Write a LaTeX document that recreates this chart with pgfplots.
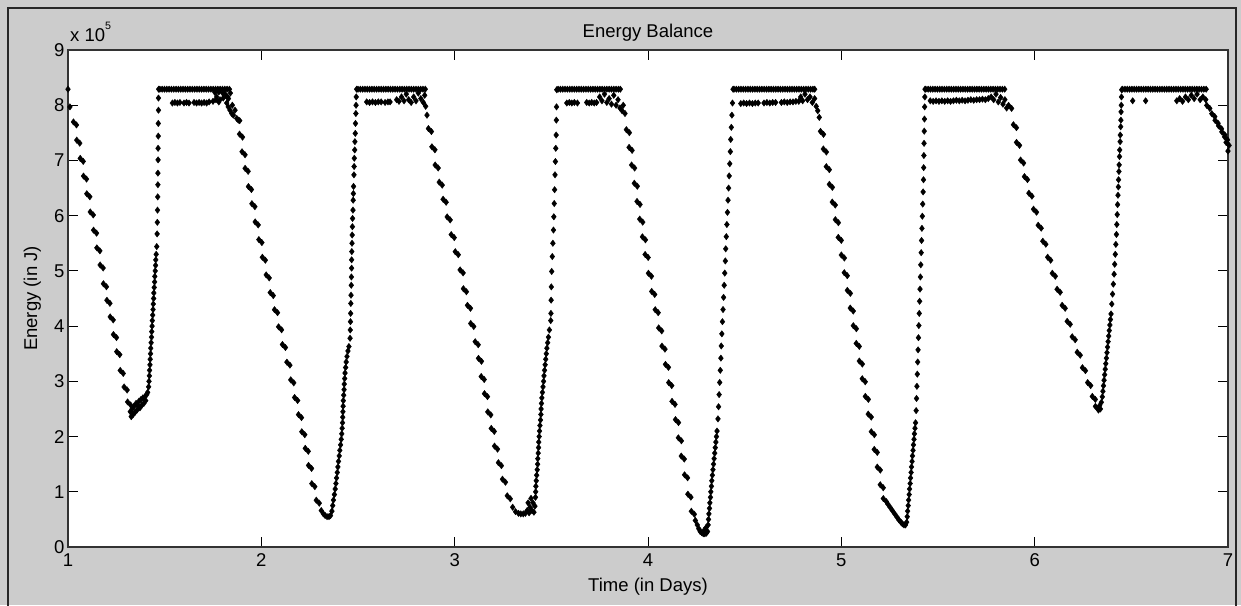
\documentclass[border=0pt]{standalone}
\usepackage{fontspec}
\setmainfont{Liberation Sans}
\usepackage{pgfplots}
\pgfplotsset{compat=1.18}
\definecolor{figgray}{RGB}{204,204,204}
% two overlapping diamonds (the descending branches show doubled markers)
\pgfdeclareplotmark{twin}{%
  \pgfpathmoveto{\pgfqpoint{-1.5pt}{4.7pt}}%
  \pgfpathlineto{\pgfqpoint{0.9pt}{1.5pt}}%
  \pgfpathlineto{\pgfqpoint{-1.5pt}{-1.7pt}}%
  \pgfpathlineto{\pgfqpoint{-3.9pt}{1.5pt}}%
  \pgfpathclose
  \pgfpathmoveto{\pgfqpoint{1.5pt}{1.7pt}}%
  \pgfpathlineto{\pgfqpoint{3.9pt}{-1.5pt}}%
  \pgfpathlineto{\pgfqpoint{1.5pt}{-4.7pt}}%
  \pgfpathlineto{\pgfqpoint{-0.9pt}{-1.5pt}}%
  \pgfpathclose
  \pgfusepathqfillstroke
}
\newcommand{\lblfont}{\fontsize{18.5}{21}\selectfont}
\begin{document}
\begin{tikzpicture}[x=1pt,y=1pt]
\fill[figgray] (0,0) rectangle (1241,605);
\useasboundingbox (0,0) rectangle (1241,605);
\begin{axis}[
  at={(68pt,58pt)}, anchor=south west,
  scale only axis, width=1160pt, height=497pt,
  xmin=1, xmax=7, ymin=0, ymax=9,
  xtick={1,2,3,4,5,6,7}, ytick={0,1,2,3,4,5,6,7,8,9},
  axis background/.style={fill=white},
  axis line style={black!80, line width=1.1pt},
  tick align=inside, major tick length=10pt,
  tick style={black, line width=0.9pt},
  tick label style={font=\lblfont},
  /pgf/number format/assume math mode=true,
  xticklabel style={yshift=-3pt},
  title={Energy Balance},
  xlabel={Time (in Days)},
  ylabel={Energy (in J)},
  every axis title/.style={at={(0.5,1.02616)}, anchor=base, font=\lblfont},
  every axis x label/.style={at={(0.5,-0.08853)}, anchor=base, font=\lblfont},
  every axis y label/.style={at={(-0.02672,0.5)}, rotate=90, anchor=base, font=\lblfont},
  pt/.style={only marks, mark=diamond*, mark size=3.2pt, black, mark options={line width=0.4pt}},
  tw/.style={only marks, mark=twin, black, mark options={line width=0.4pt}},
]
% descending branches
\addplot[tw] coordinates {
(1.036,7.67) (1.053,7.34) (1.071,7.01) (1.088,6.69) (1.105,6.37) (1.123,6.04) (1.140,5.71) (1.157,5.39) (1.174,5.08) (1.191,4.74) (1.209,4.44) (1.226,4.14) (1.243,3.82) (1.260,3.51) (1.278,3.17) (1.298,2.87) (1.316,2.60)
(1.895,7.45) (1.908,7.13) (1.924,6.83) (1.941,6.50) (1.959,6.19) (1.976,5.86) (1.995,5.54) (2.013,5.22) (2.033,4.90) (2.054,4.58) (2.076,4.27) (2.097,3.96) (2.117,3.64) (2.140,3.32) (2.160,3.00) (2.180,2.68) (2.200,2.37) (2.217,2.06) (2.235,1.76) (2.252,1.45) (2.269,1.12) (2.292,0.82)
(2.872,7.55) (2.890,7.22) (2.907,6.89) (2.928,6.58) (2.948,6.27) (2.969,5.95) (2.990,5.63) (3.011,5.32) (3.036,4.99) (3.053,4.65) (3.074,4.35) (3.091,4.02) (3.114,3.69) (3.131,3.39) (3.145,3.06) (3.162,2.75) (3.179,2.42) (3.197,2.12) (3.214,1.80) (3.234,1.50) (3.255,1.20) (3.280,0.90)
(3.896,7.53) (3.910,7.21) (3.923,6.89) (3.937,6.56) (3.951,6.23) (3.965,5.91) (3.979,5.59) (3.993,5.27) (4.010,4.93) (4.027,4.60) (4.045,4.27) (4.063,3.94) (4.080,3.61) (4.098,3.28) (4.115,2.95) (4.132,2.61) (4.150,2.28) (4.165,1.95) (4.180,1.62) (4.197,1.28) (4.214,0.93) (4.232,0.62)
(4.900,7.50) (4.915,7.18) (4.930,6.86) (4.946,6.54) (4.961,6.22) (4.977,5.90) (4.992,5.58) (5.008,5.26) (5.023,4.94) (5.039,4.62) (5.054,4.30) (5.070,3.98) (5.085,3.66) (5.101,3.34) (5.116,3.02) (5.132,2.70) (5.147,2.38) (5.163,2.06) (5.178,1.74) (5.194,1.42) (5.209,1.10) (5.225,0.85)
(5.873,7.97) (5.898,7.62) (5.914,7.30) (5.935,6.98) (5.955,6.68) (5.978,6.38) (6.002,6.09) (6.026,5.80) (6.050,5.51) (6.075,5.22) (6.099,4.93) (6.124,4.64) (6.150,4.35) (6.176,4.06) (6.202,3.78) (6.228,3.50) (6.255,3.22) (6.282,2.95) (6.306,2.70) (6.322,2.52)
(6.898,7.97) (6.924,7.82) (6.941,7.70) (6.959,7.60) (6.976,7.49) (6.990,7.40) (6.998,7.30)
};
% day 1: start, minimum, rise
\addplot[pt] coordinates {
(1.000,8.29) (1.010,7.97)
(1.322,2.45) (1.327,2.36) (1.332,2.50) (1.337,2.40) (1.342,2.55) (1.347,2.44) (1.352,2.60) (1.357,2.48) (1.362,2.56) (1.367,2.64) (1.372,2.52) (1.377,2.67) (1.382,2.57) (1.387,2.70) (1.392,2.60) (1.397,2.72) (1.402,2.65) (1.407,2.76) (1.412,2.80)
(1.417,2.90) (1.419,3.00) (1.421,3.10) (1.422,3.20) (1.424,3.30) (1.425,3.40) (1.427,3.50) (1.428,3.60) (1.430,3.70) (1.432,3.80) (1.433,3.90) (1.435,4.00) (1.436,4.10) (1.438,4.20) (1.440,4.30) (1.441,4.40) (1.443,4.50) (1.444,4.60) (1.446,4.70) (1.448,4.80) (1.449,4.90) (1.451,5.00) (1.453,5.10) (1.454,5.20) (1.456,5.30) (1.459,5.44)
(1.461,5.67) (1.462,5.88) (1.463,6.10) (1.464,6.34) (1.465,6.56) (1.465,6.77) (1.466,7.01) (1.466,7.22) (1.467,7.44) (1.467,7.67) (1.468,7.91) (1.468,8.13) (1.469,8.29)
};
% day 1: full-charge plateau
\addplot[pt] coordinates {
(1.475,8.29) (1.487,8.29) (1.499,8.29) (1.511,8.29) (1.523,8.29) (1.535,8.29) (1.547,8.29) (1.559,8.29) (1.571,8.29) (1.583,8.29) (1.595,8.29) (1.607,8.29) (1.619,8.29) (1.631,8.29) (1.643,8.29) (1.655,8.29) (1.667,8.29) (1.679,8.29) (1.691,8.29) (1.703,8.29) (1.715,8.29) (1.727,8.29) (1.739,8.29) (1.751,8.29) (1.763,8.29) (1.775,8.29) (1.787,8.29) (1.799,8.29) (1.811,8.29) (1.823,8.29) (1.835,8.29)
(1.760,8.23) (1.780,8.24) (1.800,8.22) (1.815,8.18) (1.830,8.12)
(1.540,8.04) (1.553,8.05) (1.566,8.04) (1.579,8.05) (1.600,8.04) (1.613,8.05) (1.626,8.04) (1.652,8.05) (1.665,8.04) (1.678,8.05) (1.691,8.04) (1.704,8.05) (1.717,8.04) (1.730,8.06) (1.750,8.07) (1.765,8.10) (1.780,8.06)
(1.769,8.15) (1.786,8.10) (1.803,8.13) (1.821,8.04) (1.829,7.97) (1.838,7.91) (1.847,7.85) (1.855,7.82) (1.864,7.91) (1.873,7.76) (1.881,7.73) (1.812,8.20) (1.825,8.15) (1.840,8.22) (1.850,8.00) (1.888,7.72)
};
% day 2
\addplot[pt] coordinates {
(2.310,0.66) (2.321,0.60) (2.330,0.57) (2.340,0.55) (2.350,0.55) (2.358,0.57) (2.365,0.65)
(2.369,0.75) (2.373,0.85) (2.378,0.95) (2.382,1.05) (2.386,1.15) (2.389,1.25) (2.393,1.35) (2.396,1.45) (2.399,1.55) (2.403,1.65) (2.406,1.75) (2.410,1.85) (2.413,1.95) (2.416,2.05) (2.418,2.15) (2.420,2.25) (2.421,2.35) (2.422,2.45) (2.423,2.55) (2.424,2.65) (2.426,2.75) (2.428,2.85) (2.429,2.95) (2.431,3.05) (2.433,3.15) (2.436,3.25) (2.439,3.35) (2.443,3.45) (2.448,3.55) (2.453,3.63)
(2.459,3.78) (2.460,3.93) (2.461,4.08) (2.462,4.23) (2.463,4.41) (2.464,4.56) (2.465,4.74) (2.466,4.89) (2.467,5.05) (2.467,5.20) (2.468,5.35) (2.469,5.50) (2.470,5.65) (2.471,5.80) (2.472,5.95) (2.474,6.10) (2.475,6.28) (2.476,6.40) (2.477,6.53) (2.479,6.74) (2.480,6.89) (2.481,7.04) (2.483,7.19) (2.484,7.34) (2.486,7.49) (2.487,7.67) (2.489,7.85) (2.490,8.00) (2.491,8.15) (2.493,8.29)
(2.500,8.29) (2.512,8.29) (2.524,8.29) (2.536,8.29) (2.548,8.29) (2.560,8.29) (2.572,8.29) (2.584,8.29) (2.596,8.29) (2.608,8.29) (2.620,8.29) (2.632,8.29) (2.644,8.29) (2.656,8.29) (2.668,8.29) (2.680,8.29) (2.692,8.29) (2.704,8.29) (2.716,8.29) (2.728,8.29) (2.740,8.29) (2.752,8.29) (2.764,8.29) (2.776,8.29) (2.788,8.29) (2.800,8.29) (2.812,8.29) (2.824,8.29) (2.836,8.29) (2.848,8.29)
(2.545,8.06) (2.560,8.05) (2.575,8.06) (2.590,8.05) (2.605,8.06) (2.620,8.06) (2.640,8.05) (2.655,8.06) (2.666,8.06)
(2.700,8.10) (2.712,8.07) (2.725,8.15) (2.738,8.08) (2.750,8.20) (2.762,8.10) (2.775,8.05) (2.788,8.15) (2.800,8.08) (2.812,8.22) (2.825,8.12) (2.838,8.05) (2.845,8.18) (2.850,7.98) (2.857,7.82)
};
% day 3
\addplot[pt] coordinates {
(3.300,0.72) (3.315,0.64) (3.330,0.61) (3.342,0.60) (3.355,0.60) (3.366,0.61) (3.375,0.66) (3.380,0.80) (3.385,0.62) (3.390,0.72) (3.395,0.88) (3.400,0.66) (3.405,0.80) (3.410,0.63) (3.415,0.74) (3.418,0.90)
(3.419,1.00) (3.420,1.10) (3.422,1.20) (3.424,1.30) (3.427,1.40) (3.429,1.50) (3.430,1.60) (3.432,1.70) (3.434,1.80) (3.435,1.90) (3.437,2.00) (3.439,2.10) (3.441,2.20) (3.444,2.30) (3.446,2.40) (3.447,2.50) (3.449,2.60) (3.451,2.70) (3.454,2.80) (3.457,2.90) (3.460,3.00) (3.462,3.10) (3.465,3.20) (3.468,3.30) (3.471,3.40) (3.474,3.50) (3.477,3.60) (3.481,3.70) (3.485,3.80) (3.490,3.93)
(3.497,4.10) (3.498,4.23) (3.499,4.47) (3.500,4.71) (3.502,4.99) (3.505,5.26) (3.508,5.50) (3.511,5.74) (3.513,5.98) (3.515,6.22) (3.517,6.47) (3.519,6.74) (3.521,6.98) (3.523,7.22) (3.525,7.46) (3.526,7.73) (3.527,7.97) (3.528,8.28)
(3.535,8.29) (3.547,8.29) (3.559,8.29) (3.571,8.29) (3.583,8.29) (3.595,8.29) (3.607,8.29) (3.619,8.29) (3.631,8.29) (3.643,8.29) (3.655,8.29) (3.667,8.29) (3.679,8.29) (3.691,8.29) (3.703,8.29) (3.715,8.29) (3.727,8.29) (3.739,8.29) (3.751,8.29) (3.763,8.29) (3.775,8.29) (3.787,8.29) (3.799,8.29) (3.811,8.29) (3.823,8.29) (3.835,8.29) (3.847,8.29) (3.857,8.29)
(3.580,8.04) (3.593,8.05) (3.606,8.04) (3.619,8.05) (3.635,8.04) (3.683,8.05) (3.696,8.04) (3.709,8.05) (3.722,8.04) (3.734,8.05)
(3.750,8.15) (3.762,8.08) (3.775,8.20) (3.787,8.05) (3.799,8.12) (3.811,8.02) (3.823,8.18) (3.835,8.00) (3.845,8.10) (3.855,7.95) (3.866,7.90) (3.872,8.00) (3.881,7.85)
};
% day 4
\addplot[pt] coordinates {
(4.245,0.48) (4.255,0.40) (4.263,0.33) (4.270,0.28) (4.278,0.26) (4.286,0.24) (4.294,0.24) (4.302,0.25) (4.308,0.28) (4.300,0.35) (4.290,0.30)
(4.311,0.40) (4.313,0.50) (4.315,0.60) (4.318,0.70) (4.320,0.80) (4.323,0.90) (4.325,1.00) (4.328,1.10) (4.330,1.20) (4.333,1.30) (4.336,1.40) (4.339,1.50) (4.342,1.60) (4.345,1.70) (4.348,1.80) (4.351,1.90) (4.354,2.00) (4.357,2.10)
(4.362,2.32) (4.365,2.54) (4.368,2.76) (4.371,2.98) (4.374,3.20) (4.377,3.42) (4.379,3.64) (4.382,3.86) (4.385,4.08) (4.388,4.30) (4.391,4.52) (4.394,4.74) (4.397,4.96) (4.400,5.18) (4.402,5.40) (4.405,5.62) (4.408,5.84) (4.411,6.06) (4.414,6.28) (4.417,6.50) (4.420,6.72) (4.423,6.94) (4.426,7.16) (4.428,7.38) (4.431,7.60) (4.434,7.82) (4.437,8.04) (4.440,8.29)
(4.445,8.29) (4.457,8.29) (4.469,8.29) (4.481,8.29) (4.493,8.29) (4.505,8.29) (4.517,8.29) (4.529,8.29) (4.541,8.29) (4.553,8.29) (4.565,8.29) (4.577,8.29) (4.589,8.29) (4.601,8.29) (4.613,8.29) (4.625,8.29) (4.637,8.29) (4.649,8.29) (4.661,8.29) (4.673,8.29) (4.685,8.29) (4.697,8.29) (4.709,8.29) (4.721,8.29) (4.733,8.29) (4.745,8.29) (4.757,8.29) (4.769,8.29) (4.781,8.29) (4.793,8.29) (4.805,8.29) (4.817,8.29) (4.829,8.29) (4.841,8.29) (4.853,8.29) (4.862,8.29)
(4.480,8.03) (4.495,8.04) (4.510,8.03) (4.525,8.04) (4.540,8.03) (4.555,8.04) (4.570,8.04) (4.600,8.04) (4.615,8.05) (4.630,8.04) (4.645,8.05) (4.660,8.05) (4.690,8.05) (4.705,8.06) (4.720,8.05) (4.735,8.06) (4.750,8.06) (4.765,8.07) (4.780,8.07)
(4.790,8.15) (4.800,8.08) (4.812,8.20) (4.825,8.10) (4.838,8.15) (4.850,8.05) (4.862,8.12) (4.870,7.98) (4.878,7.90) (4.886,7.78)
};
% day 5
\addplot[pt] coordinates {
(5.240,0.78) (5.252,0.72) (5.264,0.66) (5.276,0.60) (5.288,0.54) (5.298,0.49) (5.308,0.45) (5.316,0.42) (5.324,0.40) (5.332,0.40) (5.338,0.45)
(5.341,0.55) (5.343,0.65) (5.346,0.75) (5.348,0.85) (5.351,0.95) (5.353,1.05) (5.356,1.15) (5.358,1.25) (5.361,1.35) (5.363,1.45) (5.366,1.55) (5.368,1.65) (5.371,1.75) (5.373,1.85) (5.376,1.95) (5.378,2.05) (5.381,2.15) (5.384,2.25)
(5.387,2.47) (5.389,2.69) (5.391,2.91) (5.393,3.13) (5.395,3.35) (5.397,3.57) (5.399,3.79) (5.401,4.01) (5.403,4.23) (5.405,4.45) (5.407,4.67) (5.409,4.89) (5.411,5.11) (5.413,5.33) (5.415,5.55) (5.417,5.77) (5.419,5.99) (5.421,6.21) (5.423,6.43) (5.425,6.65) (5.426,6.87) (5.427,7.09) (5.428,7.31) (5.429,7.53) (5.430,7.75) (5.431,7.97) (5.432,8.15) (5.433,8.29)
(5.437,8.29) (5.449,8.29) (5.461,8.29) (5.473,8.29) (5.485,8.29) (5.497,8.29) (5.509,8.29) (5.521,8.29) (5.533,8.29) (5.545,8.29) (5.557,8.29) (5.569,8.29) (5.581,8.29) (5.593,8.29) (5.605,8.29) (5.617,8.29) (5.629,8.29) (5.641,8.29) (5.653,8.29) (5.665,8.29) (5.677,8.29) (5.689,8.29) (5.701,8.29) (5.713,8.29) (5.725,8.29) (5.737,8.29) (5.749,8.29) (5.761,8.29) (5.773,8.29) (5.785,8.29) (5.797,8.29) (5.809,8.29) (5.821,8.29) (5.833,8.29) (5.845,8.29)
(5.460,8.08) (5.475,8.07) (5.490,8.08) (5.505,8.07) (5.520,8.08) (5.535,8.07) (5.550,8.08) (5.565,8.07) (5.580,8.08) (5.595,8.09) (5.610,8.08) (5.625,8.09) (5.640,8.08) (5.655,8.09) (5.670,8.10) (5.685,8.09) (5.700,8.10) (5.715,8.10) (5.730,8.11) (5.745,8.10) (5.760,8.12)
(5.775,8.15) (5.788,8.10) (5.800,8.20) (5.812,8.06) (5.824,8.14) (5.836,8.02) (5.846,8.10) (5.855,7.95)
};
% day 6 and the start of day 7
\addplot[pt] coordinates {
(6.330,2.48) (6.336,2.56) (6.340,2.50) (6.345,2.62) (6.350,2.72)
(6.353,2.82) (6.356,2.92) (6.359,3.02) (6.362,3.12) (6.365,3.22) (6.368,3.32) (6.371,3.42) (6.374,3.52) (6.377,3.62) (6.380,3.72) (6.383,3.82) (6.386,3.92) (6.389,4.02) (6.392,4.12) (6.395,4.22)
(6.399,4.40) (6.403,4.58) (6.407,4.76) (6.411,4.94) (6.414,5.12) (6.417,5.30) (6.420,5.48) (6.423,5.66) (6.425,5.84) (6.427,6.02) (6.429,6.20) (6.431,6.37) (6.433,6.52) (6.434,6.65) (6.436,6.80) (6.437,6.92) (6.439,7.07) (6.440,7.19) (6.442,7.34) (6.443,7.46) (6.445,7.61) (6.446,7.73) (6.447,7.88) (6.448,8.00) (6.449,8.15) (6.450,8.28)
(6.455,8.29) (6.467,8.29) (6.479,8.29) (6.491,8.29) (6.503,8.29) (6.515,8.29) (6.527,8.29) (6.539,8.29) (6.551,8.29) (6.563,8.29) (6.575,8.29) (6.587,8.29) (6.599,8.29) (6.611,8.29) (6.623,8.29) (6.635,8.29) (6.647,8.29) (6.659,8.29) (6.671,8.29) (6.683,8.29) (6.695,8.29) (6.707,8.29) (6.719,8.29) (6.731,8.29) (6.743,8.29) (6.755,8.29) (6.767,8.29) (6.779,8.29) (6.791,8.29) (6.803,8.29) (6.815,8.29) (6.827,8.29) (6.839,8.29) (6.851,8.29) (6.863,8.29) (6.875,8.29) (6.887,8.29)
(6.507,8.08) (6.574,8.08)
(6.735,8.08) (6.750,8.12) (6.765,8.07) (6.780,8.15) (6.795,8.10) (6.810,8.18) (6.825,8.12) (6.840,8.20) (6.856,8.10) (6.870,8.15) (6.885,8.10)
(7.000,7.17)
};
\end{axis}
\node[anchor=base west, font=\lblfont, inner sep=0pt] at (70,563) {x 10\raisebox{12.7pt}{\fontsize{10.7}{11}\selectfont 5}};
\draw[black!85, line width=2pt] (8,-5) -- (8,597) -- (1236,597) -- (1236,-5);
\end{tikzpicture}
\end{document}
